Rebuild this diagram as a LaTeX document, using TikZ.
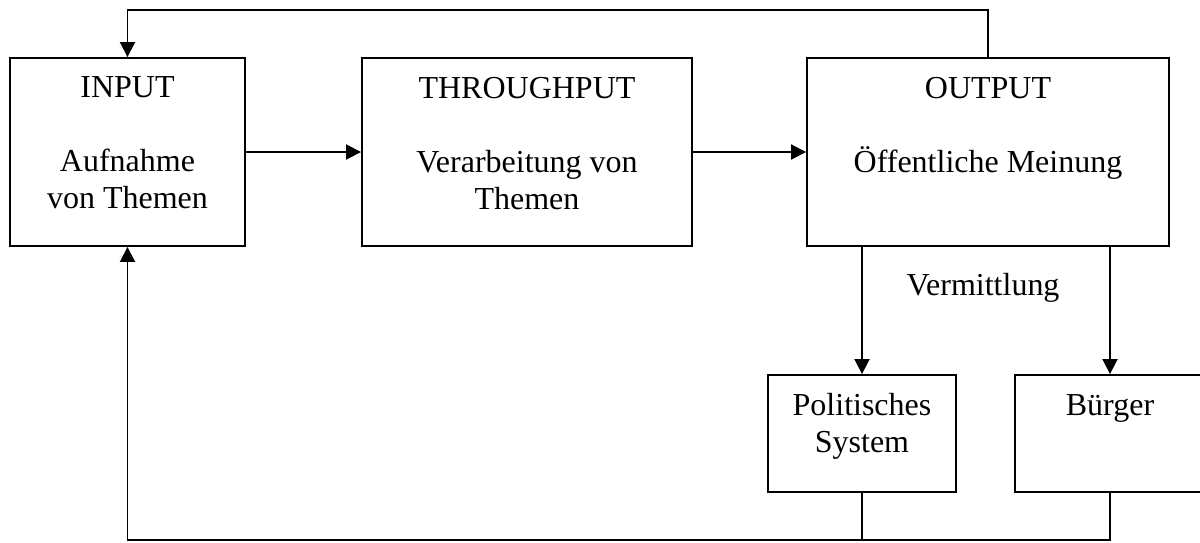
\documentclass[tikz,border=0pt]{standalone}
\usepackage{fontspec}
\setmainfont{Liberation Serif}
\usetikzlibrary{arrows.meta}

\begin{document}
\begin{tikzpicture}[x=0.5pt,y=-0.5pt,>={Triangle[length=7.5pt,width=7.5pt]},line width=0.95pt,
	box/.style={draw,rectangle,minimum height=94pt},
	txt/.style={align=center,anchor=north,inner sep=0pt,font=\fontsize{16}{18.5}\selectfont}]
				\useasboundingbox (0,0) rectangle (1200,542);
				\clip (0,0) rectangle (1200,542);

				\node[box,minimum width=117.5pt] (input) at (127.5,152) {};
				\node[box,minimum width=165pt] (through) at (527,152) {};
				\node[box,minimum width=181pt] (output) at (988,152) {};

				\node[box,minimum width=94pt,minimum height=58.5pt] (polsys) at (862,433.5) {};
				\node[box,minimum width=95pt,minimum height=58.5pt] (buerger) at (1110,433.5) {};

				\node[txt] (inputtxt) at (127.5,76) {INPUT\\[18.5pt]Aufnahme\\von Themen};
				\node[txt] (throughtxt) at (527,76) {THROUGHPUT\\[18.5pt]Verarbeitung von\\Themen};
				\node[txt] (outputtxt) at (988,76) {OUTPUT\\[18.5pt]Öffentliche Meinung};
				\node[txt] (polsystxt) at (862,392) {Politisches\\System};
				\node[txt] (buergertxt) at (1110,394) {Bürger};
				\node[txt,anchor=base] (vermittlung) at (983,295) {Vermittlung};

				\coordinate (bottomleft) at (127.5,540);

				\draw[->] (input) -- (through);
				\draw[->] (through) -- (output);
				\draw[->] (output.north) -- ++(0,-47) -| (input.north);
				\draw[->] (output.south -| polsys.north) -- (polsys.north);
				\draw[->] (output.south -| buerger.north) -- (buerger.north);
				\draw[->] (buerger.south) |- (bottomleft) -- (input.south);
				\draw (polsys.south) -- (polsys.south |- bottomleft);
			\end{tikzpicture}
\end{document}
